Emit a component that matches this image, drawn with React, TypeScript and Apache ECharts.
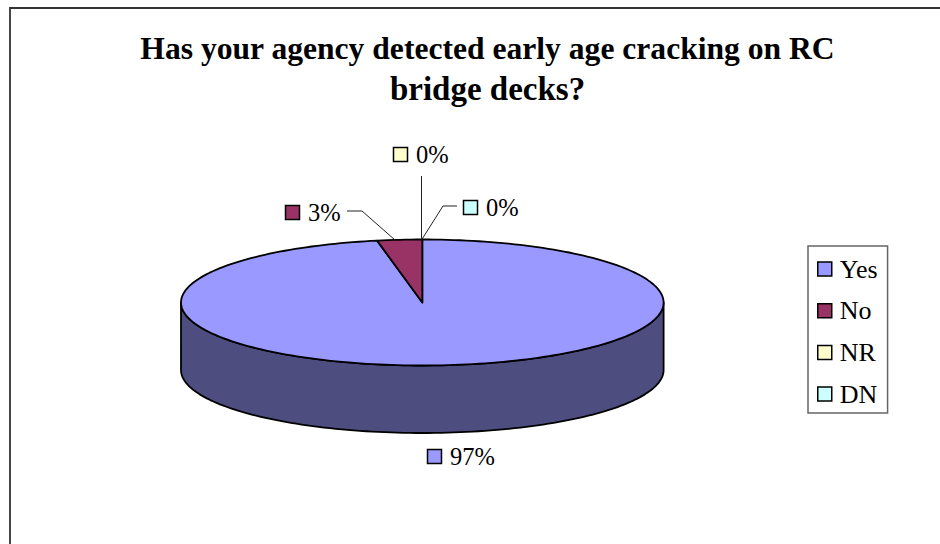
import React, { useEffect, useRef } from "react";
import * as echarts from "echarts";

const titleLines = ["Has your agency detected early age cracking on RC", "bridge decks?"];
const categories = ["Yes", "No", "NR", "DN"];
const shares = [97, 3, 0, 0];
const colors = ["#9999FF", "#993366", "#FFFFCC", "#CCFFFF"];
const sideColor = "#4D4D80";

const FONT = '"Liberation Serif", "Times New Roman", serif';
const PIE = { cx: 422.3, cy: 302.5, rx: 241.3, ry: 63, depth: 67.5 };
const LABELS = [
  { sx: 427, sy: 449, tx: 450, leader: [] as number[][] },
  { sx: 285, sy: 205, tx: 308, leader: [[347, 211], [362, 211], [395, 240]] },
  { sx: 393, sy: 147, tx: 416, leader: [[421.5, 176], [421.5, 240]] },
  { sx: 463, sy: 200, tx: 486, leader: [[457, 206], [443, 206], [421.5, 240]] },
];

const total = shares.reduce((a, b) => a + b, 0);
const pt = (deg: number, dy = 0) => {
  const r = (deg * Math.PI) / 180;
  return [PIE.cx + PIE.rx * Math.sin(r), PIE.cy - PIE.ry * Math.cos(r) + dy];
};
const arc = (from: number, to: number, dy = 0) => {
  const out: number[][] = [];
  const n = Math.max(1, Math.ceil((to - from) / 1.5));
  for (let i = 0; i <= n; i++) out.push(pt(from + ((to - from) * i) / n, dy));
  return out;
};

const makeSeries = (index: number) => {
  const before = shares.slice(0, index).reduce((a, b) => a + b, 0);
  const start = (before / total) * 360;
  const end = ((before + shares[index]) / total) * 360;
  return {
    type: "custom",
    name: categories[index],
    coordinateSystem: "none",
    silent: true,
    z: 2,
    data: [shares[index]],
    itemStyle: { color: colors[index] },
    renderItem: () => {
      const children: any[] = [];
      const line = { stroke: "#000", lineWidth: 1.8, lineJoin: "round" };
      const a = Math.max(start, 90);
      const b = Math.min(end, 270);
      if (b > a) {
        const top = arc(a, b);
        const bottom = arc(a, b, PIE.depth).reverse();
        children.push({
          type: "polygon",
          shape: { points: [...top, ...bottom] },
          style: { fill: sideColor, ...line },
        });
      }
      if (end > start) {
        children.push({
          type: "polygon",
          shape: { points: [[PIE.cx, PIE.cy], ...arc(start, end)] },
          style: { fill: colors[index], ...line },
        });
      }
      const lab = LABELS[index];
      if (lab.leader.length) {
        children.push({
          type: "polyline",
          shape: { points: lab.leader },
          style: { fill: "none", stroke: "#222", lineWidth: 1 },
        });
      }
      children.push({
        type: "rect",
        shape: { x: lab.sx + 0.5, y: lab.sy + 0.5, width: 14, height: 14 },
        style: { fill: colors[index], stroke: "#000", lineWidth: 1.5 },
      });
      children.push({
        type: "text",
        style: {
          x: lab.tx,
          y: lab.sy + 7.5,
          text: `${Math.round((shares[index] / total) * 100)}%`,
          font: `24.5px ${FONT}`,
          fill: "#000",
          verticalAlign: "middle",
          align: "left",
        },
      });
      return { type: "group", children };
    },
  };
};

const titleStyle = (fontSize: number) => ({
  fontFamily: FONT,
  fontWeight: "bold" as const,
  fontSize,
  color: "#000",
});

export default function App() {
  const ref = useRef<HTMLDivElement>(null);
  useEffect(() => {
    const chart = echarts.init(ref.current!, undefined, { renderer: "svg" });
    chart.setOption({
      animation: false,
      backgroundColor: "#fff",
      title: [
        { text: titleLines[0], left: 487.5, top: 32, textAlign: "center", padding: 0, textStyle: titleStyle(31.6) },
        { text: titleLines[1], left: 487.5, top: 72, textAlign: "center", padding: 0, textStyle: titleStyle(33) },
      ],
      legend: {
        left: 808,
        top: 246,
        orient: "vertical",
        selectedMode: false,
        itemWidth: 14,
        itemHeight: 14,
        itemGap: 15.7,
        padding: [10, 10, 6, 9],
        borderColor: "#666",
        borderWidth: 1.5,
        textStyle: { fontFamily: FONT, fontSize: 26, color: "#000", padding: [0, 0, 0, 3] },
        data: categories.map((name, i) => ({
          name,
          icon: "rect",
          itemStyle: { color: colors[i], borderColor: "#000", borderWidth: 1.5 },
        })),
      },
      graphic: [
        {
          type: "polyline",
          z: -1,
          shape: { points: [[10, 560], [10, 8], [940, 8]] },
          style: { fill: "none", stroke: "#333", lineWidth: 1.8 },
        },
      ],
      series: categories.map((_, i) => makeSeries(i)),
    });
    return () => chart.dispose();
  }, []);
  return <div ref={ref} style={{ position: "absolute", left: 0, top: 0, width: 940, height: 544 }} />;
}
